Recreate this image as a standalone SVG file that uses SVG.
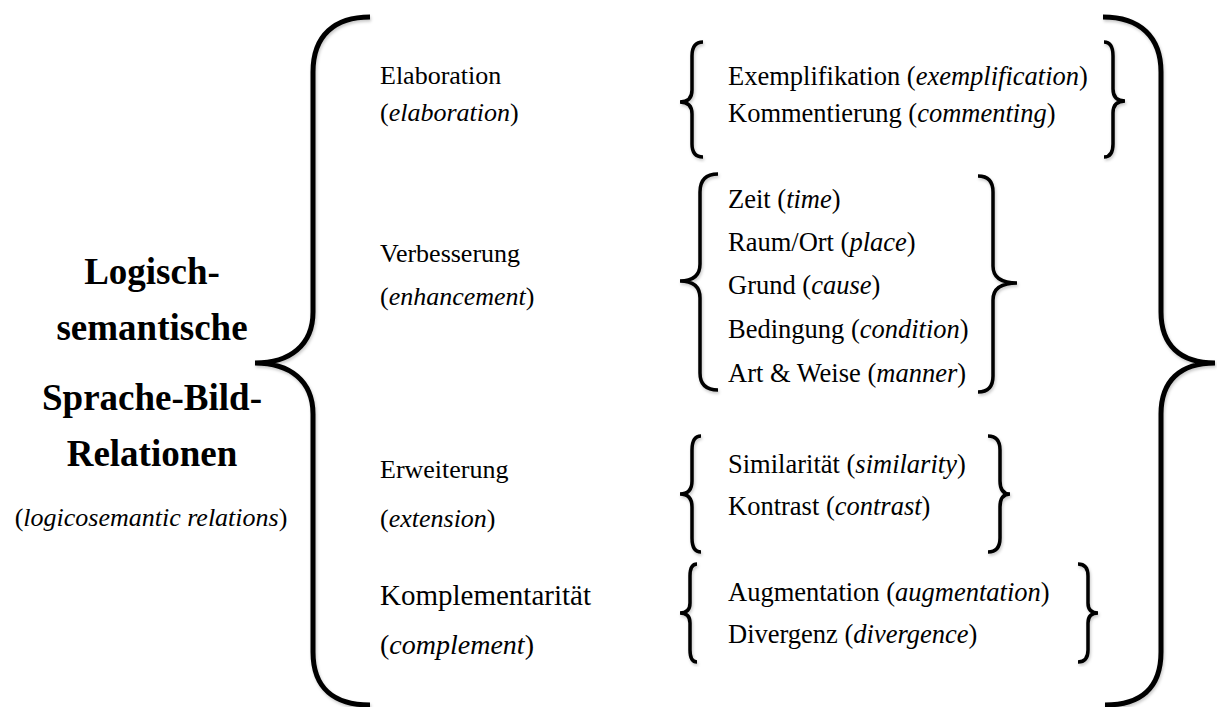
<svg xmlns="http://www.w3.org/2000/svg" width="1217" height="707" viewBox="0 0 1217 707" font-family="'Liberation Serif', Tinos, 'Times New Roman', Times, 'DejaVu Serif', serif">
<defs>
<filter id="sh" x="-20%" y="-5%" width="140%" height="110%">
<feDropShadow dx="1" dy="2" stdDeviation="1.5" flood-color="#000" flood-opacity="0.22"/>
</filter>
</defs>
<style>
text{font-family:'Liberation Serif', Tinos, 'Times New Roman', Times, 'DejaVu Serif', serif;fill:#000}
.t{font-size:37px;font-weight:bold;text-anchor:middle}
.st{font-size:26px;text-anchor:middle}
.m{font-size:26px}
.k{font-size:29px}
.kc{font-size:28px}
.s{font-size:26.5px}
.i{font-style:italic}
.big{fill:none;stroke:#000;stroke-width:5;filter:url(#sh)}
.br{fill:none;stroke:#000;stroke-width:3.5;filter:url(#sh)}
</style>
<rect width="1217" height="707" fill="#fff"/>
<g id="title">
<text class="t" x="152" y="284">Logisch-</text>
<text class="t" x="152" y="340">semantische</text>
<text class="t" x="152" y="410">Sprache-Bild-</text>
<text class="t" x="152" y="466">Relationen</text>
<text class="st" x="151" y="526">(<tspan class="i">logicosemantic relations</tspan>)</text>
</g>
<g id="connectors">
<path class="big" d="M370,17 C335,17 313,35 313,72 L313,312 C313,345 290,363 255,363 C290,363 313,381 313,414 L313,652 C313,689 335,705 370,705"/>
<path class="big" d="M1103,17 C1140,17 1161,37 1161,72 L1161,312 C1161,345 1180,363 1215,363 C1180,363 1161,381 1161,414 L1161,652 C1161,689 1140,705 1105,705"/>
<path class="br" d="M703,42 Q692,42 692,56 L692,90 Q692,102 680,102 Q692,102 692,114 L692,144 Q692,157 703,157"/>
<path class="br" d="M1104,42 Q1113,42 1113,56 L1113,89 Q1113,101 1125,101 Q1113,101 1113,113 L1113,144 Q1113,157 1104,157"/>
<path class="br" d="M718,174 Q700,174 700,192 L700,264 Q700,281 680,281 Q700,281 700,298 L700,373 Q700,390 718,390"/>
<path class="br" d="M978,176 Q993,176 993,192 L993,266 Q993,283 1017,283 Q993,283 993,300 L993,376 Q993,392 978,392"/>
<path class="br" d="M701,436 Q692,436 692,450 L692,481 Q692,494 680,494 Q692,494 692,507 L692,538 Q692,552 701,552"/>
<path class="br" d="M988,436 Q1000,436 1000,450 L1000,481 Q1000,494 1010,494 Q1000,494 1000,507 L1000,538 Q1000,552 988,552"/>
<path class="br" d="M697,564 Q690,564 690,576 L690,603 Q690,613 680,613 Q690,613 690,623 L690,650 Q690,662 697,662"/>
<path class="br" d="M1078,564 Q1088,564 1088,576 L1088,603 Q1088,613 1098,613 Q1088,613 1088,623 L1088,650 Q1088,662 1078,662"/>
</g>
<g id="elaboration">
<text class="m" x="380" y="84">Elaboration</text>
<text class="m" x="380" y="121">(<tspan class="i">elaboration</tspan>)</text>
<text class="s" x="728" y="85">Exemplifikation (<tspan class="i">exemplification</tspan>)</text>
<text class="s" x="728" y="122">Kommentierung (<tspan class="i">commenting</tspan>)</text>
</g>
<g id="enhancement">
<text class="m" x="380" y="262">Verbesserung</text>
<text class="m" x="380" y="305">(<tspan class="i">enhancement</tspan>)</text>
<text class="s" x="728" y="208">Zeit (<tspan class="i">time</tspan>)</text>
<text class="s" x="728" y="251">Raum/Ort (<tspan class="i">place</tspan>)</text>
<text class="s" x="728" y="294">Grund (<tspan class="i">cause</tspan>)</text>
<text class="s" x="728" y="338">Bedingung (<tspan class="i">condition</tspan>)</text>
<text class="s" x="728" y="382">Art &amp; Weise (<tspan class="i">manner</tspan>)</text>
</g>
<g id="extension">
<text class="m" x="380" y="478">Erweiterung</text>
<text class="m" x="380" y="527">(<tspan class="i">extension</tspan>)</text>
<text class="s" x="728" y="473">Similarität (<tspan class="i">similarity</tspan>)</text>
<text class="s" x="728" y="515">Kontrast (<tspan class="i">contrast</tspan>)</text>
</g>
<g id="complement">
<text class="k" x="380" y="605">Komplementarität</text>
<text class="kc" x="380" y="654">(<tspan class="i">complement</tspan>)</text>
<text class="s" x="728" y="601">Augmentation (<tspan class="i">augmentation</tspan>)</text>
<text class="s" x="728" y="643">Divergenz (<tspan class="i">divergence</tspan>)</text>
</g>
</svg>
